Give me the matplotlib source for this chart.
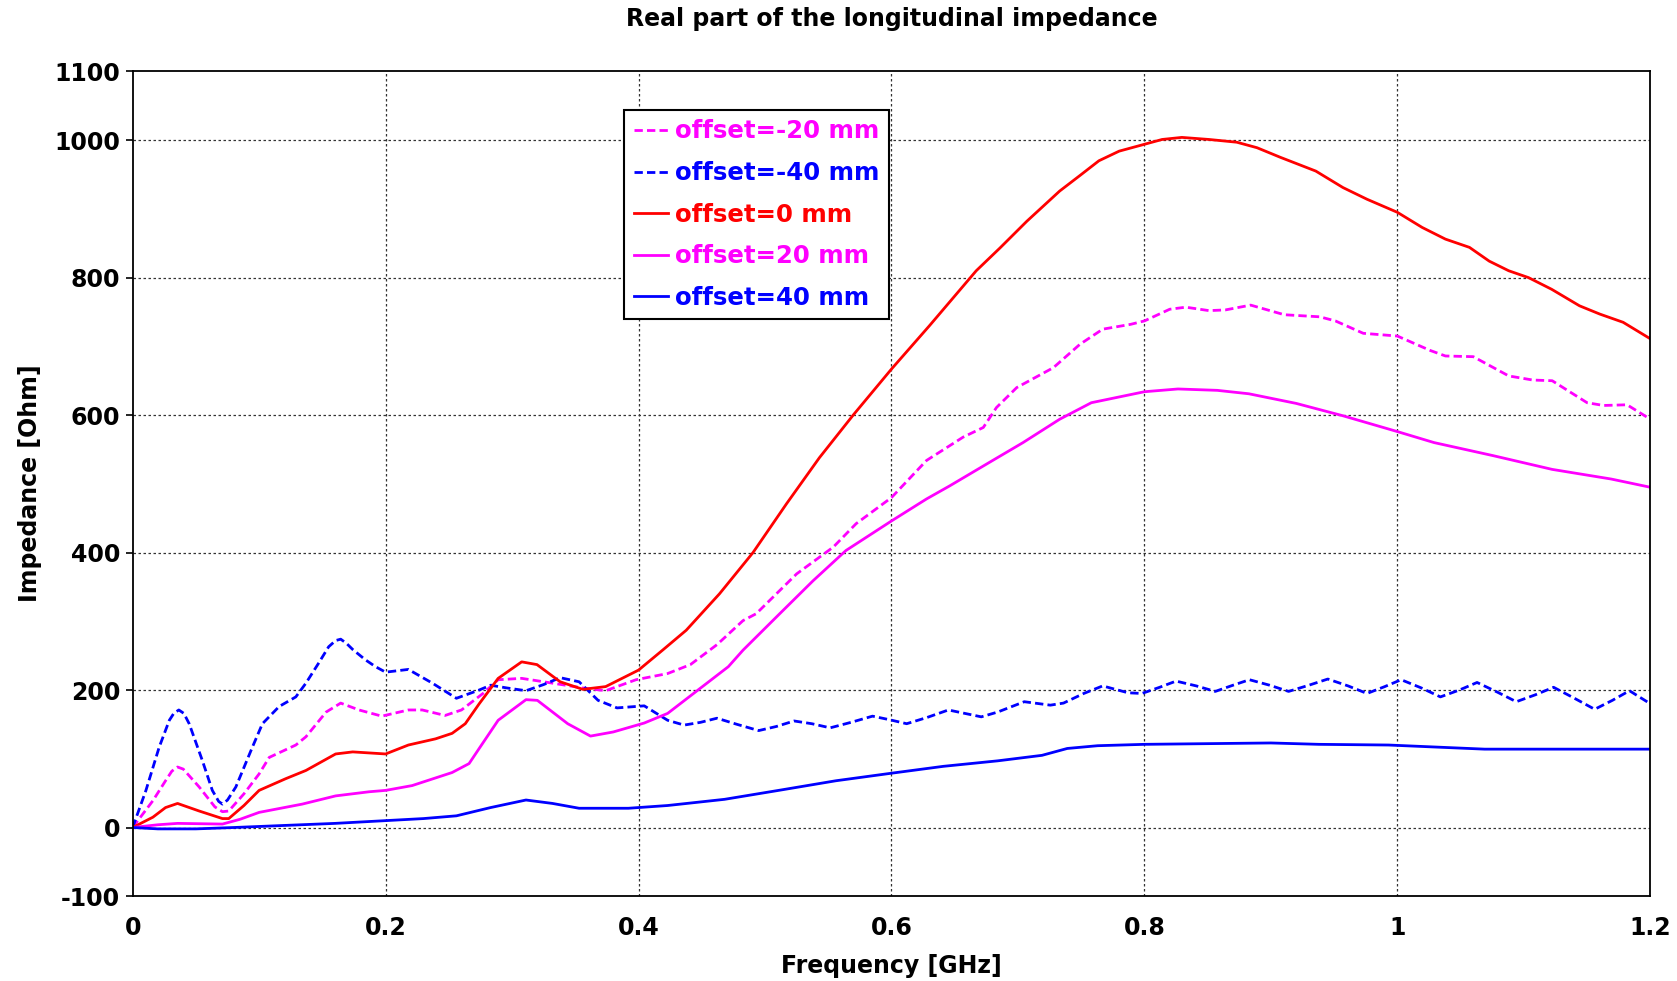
import matplotlib
matplotlib.use("Agg")
import matplotlib.pyplot as plt

# offset = -20 mm (dashed magenta)
m20d_x = [0, 0.016, 0.026, 0.031, 0.0355, 0.040, 0.0526, 0.065, 0.071, 0.076, 0.088, 0.1, 0.108, 0.129, 0.137,
          0.153, 0.1645, 0.179, 0.197, 0.218, 0.229, 0.247, 0.26, 0.277, 0.289, 0.3076, 0.332, 0.356, 0.374,
          0.398, 0.423, 0.441, 0.462, 0.4826, 0.493, 0.525, 0.554, 0.572, 0.6, 0.6277, 0.6567, 0.6726, 0.683,
          0.699, 0.728, 0.749, 0.767, 0.789, 0.8, 0.82, 0.8327, 0.851, 0.864, 0.884, 0.9106, 0.9386, 0.951,
          0.973, 1.0, 1.026, 1.038, 1.06, 1.088, 1.107, 1.1224, 1.15, 1.163, 1.1816, 1.2]
m20d_y = [0, 39, 68, 82, 88, 85, 59, 30, 23, 24, 49, 78, 102, 120, 132,
          168, 181, 171, 162, 171, 171, 163, 171, 195, 215, 217, 210, 203, 199,
          215, 224, 237, 266, 301, 311, 369, 408, 442, 480, 534, 568, 582, 611,
          640, 669, 703, 725, 732, 737, 754, 757, 752, 753, 760, 746, 743, 737,
          719, 715, 694, 686, 685, 657, 651, 650, 618, 614, 615, 594]

# offset = -40 mm (dashed blue)
m40d_x = [0, 0.0105, 0.021, 0.029, 0.0325, 0.0365, 0.0405, 0.0447, 0.055, 0.063, 0.068, 0.071, 0.075, 0.0816,
          0.0947, 0.1026, 0.1158, 0.129, 0.137, 0.147, 0.155, 0.1605, 0.1645, 0.169, 0.174, 0.184, 0.192, 0.2,
          0.218, 0.237, 0.256, 0.274, 0.283, 0.296, 0.311, 0.325, 0.338, 0.353, 0.368, 0.383, 0.4045, 0.423,
          0.436, 0.449, 0.462, 0.478, 0.495, 0.509, 0.523, 0.537, 0.5515, 0.568, 0.585, 0.598, 0.612, 0.628,
          0.645, 0.658, 0.671, 0.684, 0.705, 0.7256, 0.736, 0.752, 0.767, 0.787, 0.798, 0.812, 0.825, 0.841,
          0.856, 0.870, 0.883, 0.899, 0.914, 0.930, 0.945, 0.961, 0.976, 0.990, 1.003, 1.019, 1.034, 1.049,
          1.063, 1.079, 1.094, 1.109, 1.1235, 1.140, 1.156, 1.170, 1.1835, 1.2]
m40d_y = [0, 54, 117, 156, 166, 171, 166, 151, 98, 54, 38, 34, 40, 59,
          117, 151, 176, 190, 210, 239, 263, 272, 274, 268, 259, 244, 234, 226,
          230, 210, 188, 200, 207, 203, 199, 208, 218, 212, 185, 174, 177, 156,
          149, 153, 159, 150, 141, 147, 155, 151, 145, 153, 162, 157, 151, 160,
          171, 166, 161, 168, 183, 178, 181, 195, 206, 196, 195, 204, 213, 206,
          198, 207, 215, 207, 198, 207, 216, 206, 195, 205, 215, 203, 190, 200,
          211, 197, 183, 193, 204, 188, 172, 185, 199, 180]

# offset = 0 mm (red)
p0_x = [0, 0.016, 0.026, 0.0355, 0.0526, 0.071, 0.076, 0.088, 0.1, 0.121, 0.137, 0.1605, 0.174, 0.2, 0.218,
        0.2395, 0.2526, 0.263, 0.274, 0.289, 0.3076, 0.3197, 0.338, 0.356, 0.374, 0.4, 0.419, 0.4377, 0.464,
        0.4905, 0.517, 0.543, 0.5697, 0.6, 0.630, 0.667, 0.6857, 0.707, 0.733, 0.7486, 0.764, 0.78, 0.8,
        0.814, 0.8296, 0.851, 0.873, 0.889, 0.9075, 0.9355, 0.957, 0.976, 1.0, 1.0196, 1.038, 1.057, 1.0726,
        1.088, 1.1037, 1.122, 1.144, 1.16, 1.1785, 1.2]
p0_y = [0, 15, 29, 35, 24, 13, 13, 32, 54, 71, 83, 107, 110, 107, 120,
        129, 137, 151, 180, 217, 241, 237, 212, 201, 205, 229, 258, 287, 340,
        400, 471, 538, 600, 667, 730, 810, 843, 882, 926, 948, 970, 984, 994,
        1001, 1004, 1001, 997, 989, 975, 955, 931, 914, 895, 873, 856, 844, 824,
        810, 800, 783, 759, 747, 735, 711]

# offset = 20 mm (magenta)
p20_x = [0, 0.02, 0.0355, 0.071, 0.085, 0.1, 0.134, 0.1605, 0.187, 0.2, 0.221, 0.2526, 0.266, 0.274, 0.289,
         0.311, 0.32, 0.344, 0.362, 0.38, 0.4045, 0.423, 0.447, 0.471, 0.4826, 0.5116, 0.538, 0.564, 0.6,
         0.6277, 0.646, 0.68, 0.704, 0.733, 0.758, 0.8, 0.8265, 0.8576, 0.8826, 0.92, 0.957, 1.0, 1.029,
         1.0757, 1.1224, 1.169, 1.2]
p20_y = [0, 4, 6, 5, 12, 22, 34, 46, 52, 54, 61, 80, 93, 115, 156,
         186, 185, 151, 133, 139, 152, 166, 200, 234, 258, 311, 359, 403, 446,
         478, 497, 534, 560, 594, 618, 634, 638, 636, 631, 617, 599, 576, 560,
         541, 521, 507, 495]

# offset = 40 mm (blue)
p40_x = [0, 0.02, 0.05, 0.08, 0.12, 0.16, 0.2, 0.23, 0.256, 0.283, 0.311, 0.332, 0.353, 0.392, 0.423, 0.468,
         0.514, 0.556, 0.6, 0.641, 0.684, 0.719, 0.739, 0.763, 0.8, 0.85, 0.9, 0.938, 0.993, 1.031, 1.069,
         1.12, 1.2]
p40_y = [0, -2, -2, 0, 3, 6, 10, 13, 17, 29, 40, 35, 28, 28, 32, 41,
         55, 68, 79, 89, 97, 105, 115, 119, 121, 122, 123, 121, 120, 117, 114,
         114, 114]

series = [
    (m20d_x, m20d_y, "offset=-20 mm", "#ff00ff", (0, (3, 1.5))),
    (m40d_x, m40d_y, "offset=-40 mm", "#0000ff", (0, (3, 1.5))),
    (p0_x, p0_y, "offset=0 mm", "#ff0000", "-"),
    (p20_x, p20_y, "offset=20 mm", "#ff00ff", "-"),
    (p40_x, p40_y, "offset=40 mm", "#0000ff", "-"),
]

x_ticks = [0, 0.2, 0.4, 0.6, 0.8, 1.0, 1.2]
x_ticklabels = ["0", "0.2", "0.4", "0.6", "0.8", "1", "1.2"]
y_ticks = [-100, 0, 200, 400, 600, 800, 1000, 1100]

plt.rcParams['font.family'] = ['DejaVu Sans']
plt.rcParams['font.weight'] = 'bold'
plt.rcParams['axes.unicode_minus'] = False

fig = plt.figure(figsize=(16.77, 9.81), dpi=100)
ax = fig.add_axes([0.0791, 0.0864, 0.905, 0.8408])

for xs, ys, lab, col, ls in series:
    ax.plot(xs, ys, color=col, linestyle=ls, linewidth=2, label=lab)

ax.set_xlim(0, 1.2)
ax.set_ylim(-100, 1100)
ax.set_xticks(x_ticks)
ax.set_xticklabels(x_ticklabels)
ax.set_yticks(y_ticks)
ax.tick_params(axis='x', length=0, pad=14, labelsize=17)
ax.tick_params(axis='y', length=5, width=1.2, pad=4, labelsize=17)

# dotted grid only at inner values
for gx in [0.2, 0.4, 0.6, 0.8, 1.0]:
    ax.axvline(gx, color='#333333', linestyle=(0, (2, 2)), linewidth=0.9, zorder=0)
for gy in [0, 200, 400, 600, 800, 1000]:
    ax.axhline(gy, color='#333333', linestyle=(0, (2, 2)), linewidth=0.9, zorder=0)

for s in ax.spines.values():
    s.set_linewidth(1.3)
    s.set_color('black')

fig.text(0.5316, 0.981, "Real part of the longitudinal impedance", ha='center', va='center',
         fontsize=17, fontweight='bold')
fig.text(0.5316, 0.0153, "Frequency [GHz]", ha='center', va='center', fontsize=17, fontweight='bold')
fig.text(0.0179, 0.5076, "Impedance [Ohm]", ha='center', va='center', rotation=90,
         fontsize=17, fontweight='bold')

leg = ax.legend(loc='upper left', bbox_to_anchor=(0.324, 0.953), borderaxespad=0,
                fontsize=17.6, handlelength=1.4, handletextpad=0.3, labelspacing=0.72,
                borderpad=0.38, fancybox=False, framealpha=1, edgecolor='black')
leg.get_frame().set_linewidth(1.5)
for txt, line in zip(leg.get_texts(), leg.get_lines()):
    txt.set_color(line.get_color())
    txt.set_fontweight('bold')

fig.savefig("out.png", dpi=100)
